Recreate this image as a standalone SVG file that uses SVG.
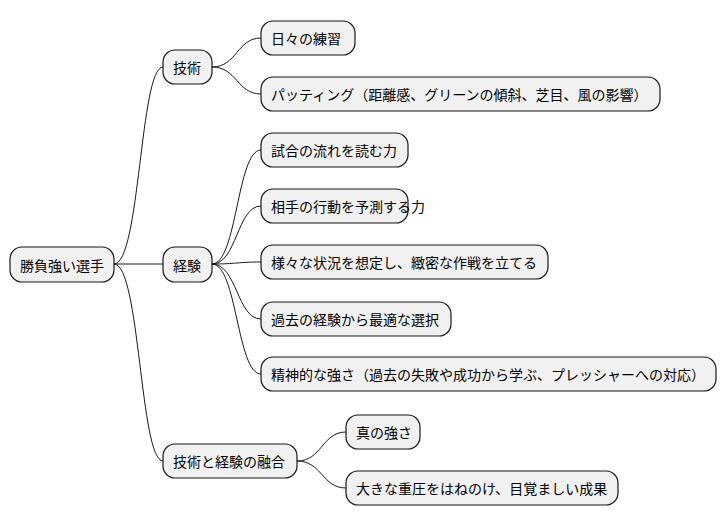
<svg xmlns="http://www.w3.org/2000/svg" width="726" height="527" viewBox="0 0 726 527">
<style>
rect{fill:#f1f1f1;stroke:#181818;stroke-width:1.2}
text{font-family:"Noto Sans CJK JP","Liberation Sans",sans-serif;font-size:14px;fill:#000;dominant-baseline:central}
#edges path{fill:none;stroke:#181818;stroke-width:1}
</style>
<rect width="726" height="527" style="fill:#fff;stroke:none"/>
<g id="edges">
<path d="M114,264 C140,264 140,67 163,67"/>
<path d="M114,264 L163,264"/>
<path d="M114,264 C140,264 140,461 163,461"/>
<path d="M212,67 C237,67 237,38 261,38"/>
<path d="M212,67 C237,67 237,94 261,94"/>
<path d="M212,264 C237,264 237,150 261,150"/>
<path d="M212,264 C237,264 237,206 261,206"/>
<path d="M212,264 C237,264 237,262 261,262"/>
<path d="M212,264 C237,264 237,319 261,319"/>
<path d="M212,264 C237,264 237,374 261,374"/>
<path d="M297,461 C322,461 322,432 346,432"/>
<path d="M297,461 C322,461 322,488 346,488"/>
</g>
<g id="root"><rect x="10" y="247" width="104" height="35" rx="12"/><text x="20" y="264.5">勝負強い選手</text></g>
<g id="gijutsu"><rect x="163" y="50" width="49" height="34" rx="12"/><text x="173" y="67">技術</text></g>
<g id="keiken"><rect x="163" y="247" width="49" height="35" rx="12"/><text x="173" y="264.5">経験</text></g>
<g id="yugo"><rect x="163" y="444" width="134" height="34" rx="12"/><text x="173" y="461">技術と経験の融合</text></g>
<g id="n1"><rect x="261" y="21" width="94" height="34" rx="12"/><text x="271" y="38">日々の練習</text></g>
<g id="n2"><rect x="261" y="77" width="399" height="34" rx="12"/><text x="271" y="94">パッティング（距離感、グリーンの傾斜、芝目、風の影響）</text></g>
<g id="n3"><rect x="261" y="133" width="147" height="34" rx="12"/><text x="271" y="150">試合の流れを読む力</text></g>
<g id="n4"><rect x="261" y="189" width="147" height="34" rx="12"/><text x="271" y="206">相手の行動を予測する力</text></g>
<g id="n5"><rect x="261" y="245" width="287" height="34" rx="12"/><text x="271" y="262">様々な状況を想定し、緻密な作戦を立てる</text></g>
<g id="n6"><rect x="261" y="302" width="190" height="34" rx="12"/><text x="271" y="319">過去の経験から最適な選択</text></g>
<g id="n7"><rect x="261" y="357" width="455" height="34" rx="12"/><text x="271" y="374">精神的な強さ（過去の失敗や成功から学ぶ、プレッシャーへの対応）</text></g>
<g id="n8"><rect x="346" y="415" width="74" height="34" rx="12"/><text x="356" y="432">真の強さ</text></g>
<g id="n9"><rect x="346" y="471" width="272" height="34" rx="12"/><text x="356" y="488">大きな重圧をはねのけ、目覚ましい成果</text></g>
</svg>
